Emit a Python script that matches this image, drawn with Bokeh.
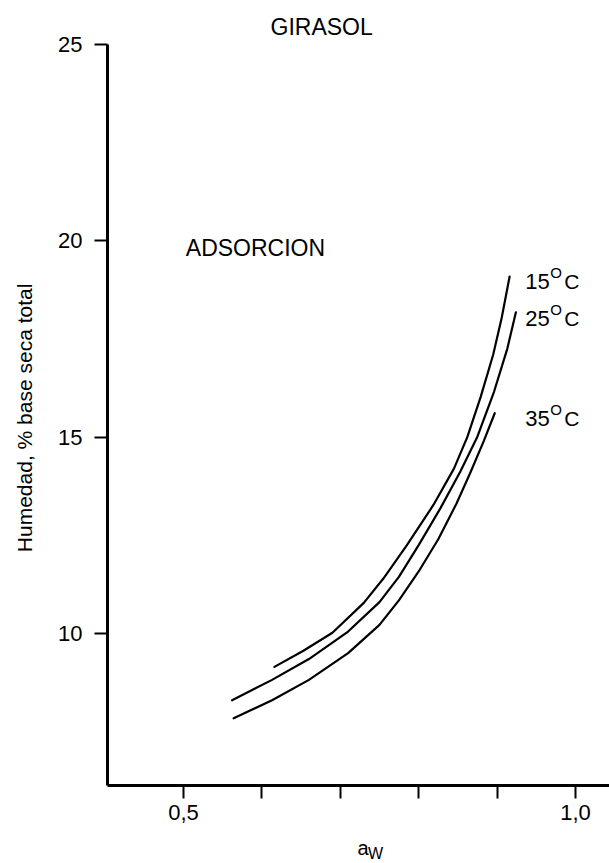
from bokeh.plotting import figure
from bokeh.layouts import column
from bokeh.models import Range1d, FixedTicker, Label, Title
from bokeh.core.properties import value
from bokeh.embed import file_html
from bokeh.resources import INLINE

# ---- data ----
aw_15 = [0.616, 0.653, 0.690, 0.730, 0.755, 0.785, 0.819, 0.845, 0.862, 0.879, 0.895, 0.906, 0.916]
hum_15 = [9.15, 9.56, 10.02, 10.78, 11.40, 12.25, 13.28, 14.20, 15.00, 16.02, 17.10, 18.05, 19.09]

aw_25 = [0.562, 0.613, 0.660, 0.710, 0.750, 0.775, 0.800, 0.828, 0.853, 0.875, 0.896, 0.913, 0.924]
hum_25 = [8.30, 8.82, 9.35, 10.05, 10.80, 11.45, 12.25, 13.20, 14.12, 15.02, 16.15, 17.25, 18.18]

aw_35 = [0.564, 0.613, 0.660, 0.710, 0.750, 0.775, 0.800, 0.825, 0.848, 0.866, 0.883, 0.897]
hum_35 = [7.84, 8.30, 8.82, 9.50, 10.22, 10.85, 11.58, 12.40, 13.30, 14.10, 14.90, 15.61]

series_names = ["15", "25", "35"]
x_ticks = [0.5, 0.6, 0.7, 0.8, 0.9, 1.0]
x_tick_labels = {0.5: "0,5", 0.6: "", 0.7: "", 0.8: "", 0.9: "", 1.0: "1,0"}
y_ticks = [10, 15, 20, 25]

FONT = "Liberation Sans"
W = 609
BOT_H = 34                 # strip below holding the x-axis label
MAIN_H = 863 - BOT_H
LEFT = 107
XR = (0.4031, 1.0434)

# ---- main plot ----
p = figure(width=W, height=MAIN_H, output_backend="svg", toolbar_location=None,
           x_range=Range1d(*XR), y_range=Range1d(6.13, 25.0), title=None,
           min_border_left=LEFT, min_border_right=0, min_border_top=44,
           min_border_bottom=MAIN_H - 785)
p.outline_line_color = None
p.grid.visible = False
p.background_fill_color = "white"
p.border_fill_color = "white"

p.add_layout(Title(text="GIRASOL", align="left", offset=163, standoff=10,
                   text_font=FONT, text_font_size="23px", text_font_style="normal",
                   text_color="black"), "above")

for ax in (p.xaxis[0], p.yaxis[0]):
    ax.axis_line_width = 3
    ax.axis_line_color = "black"
    ax.major_tick_line_width = 2
    ax.major_tick_line_color = "black"
    ax.major_tick_in = 0
    ax.major_tick_out = 13
    ax.minor_tick_line_color = None
    ax.major_label_text_font = FONT
    ax.major_label_text_font_size = "22px"
    ax.major_label_text_color = "black"

p.xaxis.ticker = FixedTicker(ticks=x_ticks)
p.xaxis.major_label_overrides = x_tick_labels
p.xaxis.major_label_standoff = 6
p.yaxis.ticker = FixedTicker(ticks=y_ticks)
p.yaxis.major_label_standoff = 12

p.yaxis.axis_label = "Humedad,  % base seca total"
p.yaxis.axis_label_text_font = FONT
p.yaxis.axis_label_text_font_size = "21px"
p.yaxis.axis_label_text_font_style = "normal"
p.yaxis.axis_label_text_color = "black"
p.yaxis.axis_label_standoff = 19

for xs, ys in ((aw_15, hum_15), (aw_25, hum_25), (aw_35, hum_35)):
    p.line(xs, ys, line_color="black", line_width=2.2, line_join="round", line_cap="round")


def lab(x, y, text, size, xoff=0, yoff=0, align="left"):
    p.add_layout(Label(x=x, y=y, text=text, x_offset=xoff, y_offset=yoff,
                       text_font=FONT, text_font_size=size, text_color="black",
                       text_align=align, text_baseline="alphabetic"))


lab(0.503, 19.83, "ADSORCION", "23px")

# curve labels with superscript "O"
label_y = [18.96, 18.02, 15.47]
for name, yb in zip(series_names, label_y):
    lab(0.936, yb, name, "22px")
    lab(0.936, yb, "O", "15px", xoff=25, yoff=9)
    lab(0.936, yb, "C", "21px", xoff=39)

# ---- x-axis label strip: a with subscript W ----
STRIP_TOP = 863 - BOT_H
bot = figure(width=W, height=BOT_H, output_backend="svg", toolbar_location=None,
             x_axis_type=None, y_axis_type=None, title=None,
             x_range=Range1d(*XR), y_range=Range1d(BOT_H, 0),
             min_border_left=LEFT, min_border_right=0,
             min_border_top=0, min_border_bottom=0)
bot.outline_line_color = None
bot.grid.visible = False
bot.text(x=[0.7219], y=[847 - STRIP_TOP], text=["a"], text_font=value(FONT),
         text_font_size=value("20px"), text_color="black",
         text_align="left", text_baseline="alphabetic")
bot.text(x=[0.7355], y=[853 - STRIP_TOP], text=["W"], text_font=value(FONT),
         text_font_size=value("16px"), text_color="black",
         text_align="left", text_baseline="alphabetic")

layout = column(p, bot, spacing=0)
open("out.html", "w").write(file_html(layout, INLINE))
